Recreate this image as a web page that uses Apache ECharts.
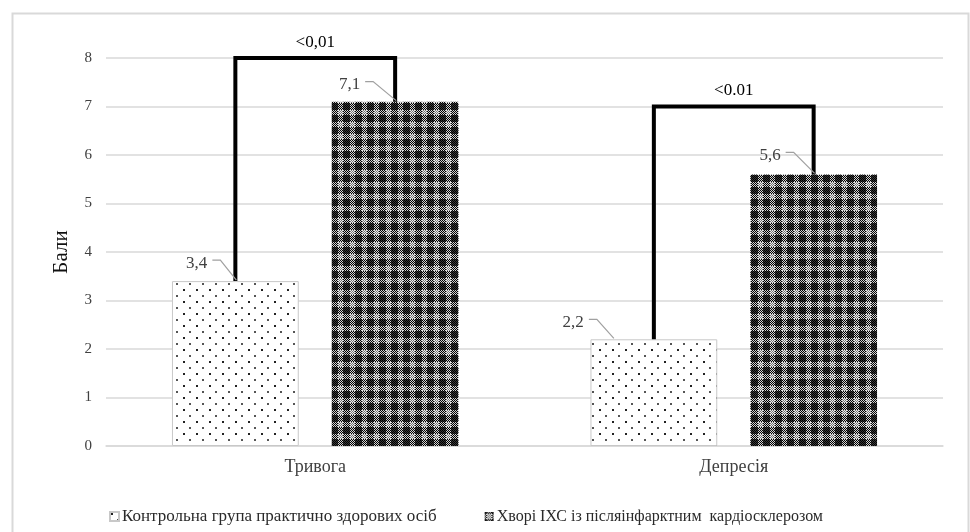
<!DOCTYPE html>
<html>
<head>
<meta charset="utf-8">
<script src="https://cdn.jsdelivr.net/npm/echarts@6/dist/echarts.min.js"></script>
<style>
html,body{margin:0;padding:0;background:#fff;}
#main{width:970px;height:532px;}
</style>
</head>
<body>
<div id="main"></div>
<script>
// ---- data ----
const categories = ['Тривога', 'Депресія'];
const seriesNames = ['Контрольна група практично здорових осіб', 'Хворі ІХС із післяінфарктним  кардіосклерозом'];
const controlValues = [3.4, 2.2];
const patientValues = [7.1, 5.6];
const pValueLabels = ['<0,01', '<0.01'];
const bracketLevels = [8, 7];
const yTicks = [0, 1, 2, 3, 4, 5, 6, 7, 8];

// ---- layout constants ----
const BAR_W = 0.303;   // fraction of band
const BAR_GAP = 0.26;  // fraction of bar width
// label offsets (px) relative to bar top centre: [control, patient] per category
const labelDx = [[-28, -35], [-70, -33]];
const labelDy = [[-18, -17], [-17, -19]];

function fmt(v) { return String(v).replace('.', ','); }

// ---- patterns ----
function dotPattern() {
  const c = document.createElement('canvas');
  c.width = 13; c.height = 12;
  const ctx = c.getContext('2d');
  ctx.fillStyle = '#fff'; ctx.fillRect(0, 0, 13, 12);
  ctx.fillStyle = '#222';
  ctx.fillRect(1, 1, 2, 2);
  ctx.fillStyle = '#555';
  ctx.fillRect(7, 7, 2, 2);
  return c;
}
function plaidPattern() {
  const c = document.createElement('canvas');
  c.width = 12; c.height = 12;
  const ctx = c.getContext('2d');
  const img = ctx.createImageData(12, 12);
  for (let y = 0; y < 12; y++) {
    for (let x = 0; x < 12; x++) {
      let v;
      const chk = (x + y) % 2 === 0;
      const inX = x >= 2 && x <= 6;
      const inY = y >= 2 && y <= 6;
      if (inX && inY) v = chk ? 235 : 120;
      else if (inX || inY) v = chk ? 0 : 210;
      else v = chk ? 0 : 55;
      const k = (y * 12 + x) * 4;
      img.data[k] = img.data[k + 1] = img.data[k + 2] = v;
      img.data[k + 3] = 255;
    }
  }
  ctx.putImageData(img, 0, 0);
  return c;
}
const dotFill = { image: dotPattern(), repeat: 'repeat' };
const plaidFill = { image: plaidPattern(), repeat: 'repeat' };

const FONT = "'Liberation Serif', 'DejaVu Serif', serif";
const TXT = '#404040';

const chart = echarts.init(document.getElementById('main'), null, { renderer: 'canvas' });

const overlayData = categories.map((c, i) => [i, controlValues[i], patientValues[i], bracketLevels[i]]);

function renderOverlay(params, api) {
  const i = api.value(0);
  const v1 = api.value(1), v2 = api.value(2), lvl = api.value(3);
  const band = api.size([1, 0])[0];
  const w = band * BAR_W;
  const g = w * BAR_GAP;
  const off = (w + g) / 2;
  const p1 = api.coord([i, v1]);
  const p2 = api.coord([i, v2]);
  const pt = api.coord([i, lvl]);
  const x1 = p1[0] - off, x2 = p2[0] + off;
  const children = [];
  // bracket
  children.push({
    type: 'polyline',
    shape: { points: [[x1, p1[1]], [x1, pt[1]], [x2, pt[1]], [x2, p2[1]]] },
    style: { stroke: '#000', lineWidth: 4, fill: null, lineJoin: 'miter' }
  });
  children.push({
    type: 'text',
    style: {
      text: pValueLabels[i], x: (x1 + x2) / 2, y: pt[1] - 7,
      align: 'center', verticalAlign: 'bottom',
      font: "17px " + FONT, fill: '#000'
    }
  });
  // value labels with leader lines
  [[x1, p1[1], v1, 0], [x2, p2[1], v2, 1]].forEach(([bx, by, v, s]) => {
    const dx = labelDx[i][s], dy = labelDy[i][s];
    const lx = bx + dx, ly = by + dy;
    children.push({
      type: 'polyline',
      shape: { points: [[lx + 5, ly - 3], [lx + 13, ly - 3], [bx + (dx < -50 ? dx + 30 : 1), by - 1]] },
      style: { stroke: '#a0a0a0', lineWidth: 1.2, fill: null }
    });
    children.push({
      type: 'text',
      style: {
        text: fmt(v), x: lx, y: ly,
        align: 'right', verticalAlign: 'middle',
        font: "17px " + FONT, fill: TXT
      }
    });
  });
  return { type: 'group', children: children };
}

chart.setOption({
  animation: false,
  backgroundColor: '#fff',
  textStyle: { fontFamily: FONT },
  graphic: [{
    type: 'rect', left: 10, top: 11,
    shape: { x: 0, y: 0, width: 956, height: 540 },
    style: { fill: null, stroke: '#d9d9d9', lineWidth: 2 },
    silent: true, z: 100
  }],
  grid: { left: 106, right: 27, top: 58, bottom: 86, containLabel: false },
  legend: {
    data: seriesNames,
    left: 104, top: 503,
    icon: 'rect', itemWidth: 9, itemHeight: 9, itemGap: 48,
    formatter: function (name) {
      return (name === seriesNames[0] ? '{a|' : '{b|') + name + '}';
    },
    textStyle: {
      fontFamily: FONT, fontSize: 17, color: '#2a2a2a', padding: [0, 0, 0, -2],
      rich: {
        a: { fontFamily: FONT, fontSize: 17, color: '#2a2a2a' },
        b: { fontFamily: FONT, fontSize: 16, color: '#2a2a2a' }
      }
    }
  },
  xAxis: {
    type: 'category',
    data: categories,
    axisLine: { lineStyle: { color: '#d9d9d9', width: 1.5 } },
    axisTick: { show: false },
    axisLabel: { fontFamily: FONT, fontSize: 18, color: TXT, margin: 12 }
  },
  yAxis: {
    type: 'value',
    min: yTicks[0], max: yTicks[yTicks.length - 1], interval: 1,
    name: 'Бали', nameLocation: 'middle', nameGap: 34, nameRotate: 90,
    nameTextStyle: { fontFamily: FONT, fontSize: 21, color: '#111' },
    axisLine: { show: false },
    axisTick: { show: false },
    axisLabel: { fontFamily: FONT, fontSize: 15, color: TXT, margin: 14 },
    splitLine: { lineStyle: { color: '#d9d9d9', width: 1.5 } }
  },
  series: [
    {
      name: seriesNames[0], type: 'bar', data: controlValues,
      barWidth: (BAR_W * 100) + '%', barGap: (BAR_GAP * 100) + '%',
      itemStyle: { color: dotFill, borderColor: '#c8c8c8', borderWidth: 1 }
    },
    {
      name: seriesNames[1], type: 'bar', data: patientValues,
      barWidth: (BAR_W * 100) + '%', barGap: (BAR_GAP * 100) + '%',
      itemStyle: { color: plaidFill }
    },
    {
      type: 'custom', data: overlayData, renderItem: renderOverlay,
      clip: false, silent: true, z: 10,
      encode: { x: 0, y: 3 }
    }
  ]
});
</script>
</body>
</html>
